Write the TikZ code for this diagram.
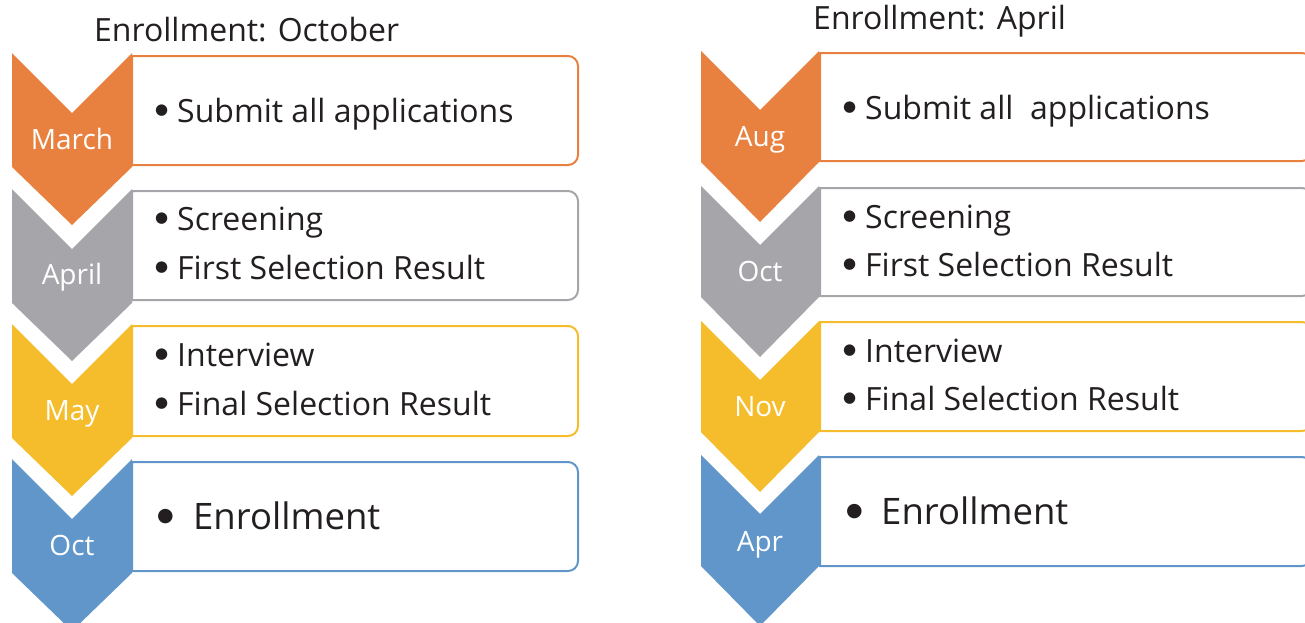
\documentclass[tikz,border=0pt]{standalone}
\usepackage{fontspec}
\setmainfont{Open Sans}
\newfontfamily\symf{DejaVu Sans}
\definecolor{corange}{HTML}{E8813F}
\definecolor{cgray}{HTML}{A6A6AA}
\definecolor{cyellow}{HTML}{F5BD2B}
\definecolor{cblue}{HTML}{6096C9}
\definecolor{ctext}{HTML}{231F20}
\tikzset{
  boxline/.style={draw=#1, line width=2pt},
  mlabel/.style={text=white, anchor=base, inner sep=0pt, font=\fontsize{28}{30}\selectfont},
  itemtxt/.style={anchor=base west, inner sep=0pt, text=ctext, font=\fontsize{32}{36}\selectfont},
  bigtxt/.style={anchor=base west, inner sep=0pt, text=ctext, font=\fontsize{36.5}{40}\selectfont},
  titletxt/.style={anchor=base west, inner sep=0pt, text=ctext, font=\fontsize{32}{36}\selectfont},
}
% chevron: x0, width, top, side length, tip length, colour
\newcommand\mychev[6]{%
  \fill[#6] (#1,#3) -- ({#1+#2/2},{#3+#2/2}) -- ({#1+#2},#3) -- ({#1+#2},{#3+#4})
    -- ({#1+#2/2},{#3+#5}) -- (#1,{#3+#4}) -- cycle;}
% box: x0, top, x1, bottom, colour
\newcommand\mybox[5]{%
  \draw[boxline=#5] (#1,#4) -- (#1,#2) -- ({#3-10},#2)
    .. controls ({#3-4.5},#2) and (#3,{#2+4.5}) .. (#3,{#2+10})
    -- (#3,{#4-10})
    .. controls (#3,{#4-4.5}) and ({#3-4.5},#4) .. ({#3-10},#4) -- cycle;}
\newcommand\bul[3]{\makebox[#1][l]{\raisebox{#2}{\symf\fontsize{#3}{#3}\selectfont ●}}}
\begin{document}
\begin{tikzpicture}[x=1pt,y=-1pt]
\useasboundingbox (0,0) rectangle (1305,622);
% ---------- left panel ----------
\node[titletxt] (tL) at (94,41) {Enrollment: October};
\mybox{132}{56}{578}{165}{corange}
\mybox{132}{191}{578}{300}{cgray}
\mybox{132}{326}{578}{436}{cyellow}
\mybox{132}{462}{578}{571}{cblue}
\mychev{12}{120}{53}{114}{172}{corange}
\mychev{12}{120}{189}{114}{172}{cgray}
\mychev{12}{120}{324}{114}{172}{cyellow}
\mychev{12}{120}{459}{114}{172}{cblue}
\node[mlabel] (mL1) at (72,149) {March};
\node[mlabel] (mL2) at (72,284) {April};
\node[mlabel] (mL3) at (72,420) {May};
\node[mlabel] (mL4) at (72,555) {Oct};
\node[itemtxt] (iL1) at (155,122) {\bul{22pt}{8pt}{15}Submit all applications};
\node[itemtxt] (iL2a) at (155,230) {\bul{22pt}{8pt}{15}Screening};
\node[itemtxt] (iL2b) at (155,279) {\bul{22pt}{8pt}{15}First Selection Result};
\node[itemtxt] (iL3a) at (155,366) {\bul{22pt}{8pt}{15}Interview};
\node[itemtxt] (iL3b) at (155,415) {\bul{22pt}{8pt}{15}Final Selection Result};
\node[bigtxt] (iL4) at (157,529) {\bul{36pt}{8pt}{19}Enrollment};
% ---------- right panel ----------
\node[titletxt] (tR) at (813,29) {Enrollment: April};
\mybox{820}{53}{1312}{161}{corange}
\mybox{820}{188}{1312}{296}{cgray}
\mybox{820}{322}{1312}{431}{cyellow}
\mybox{820}{457}{1312}{566}{cblue}
\mychev{701}{118}{51}{111}{171}{corange}
\mychev{701}{118}{186}{111}{171}{cgray}
\mychev{701}{118}{321}{111}{171}{cyellow}
\mychev{701}{118}{455}{111}{171}{cblue}
\node[mlabel] (mR1) at (760,146) {Aug};
\node[mlabel] (mR2) at (760,281) {Oct};
\node[mlabel] (mR3) at (760,416) {Nov};
\node[mlabel] (mR4) at (760,551) {Apr};
\node[itemtxt] (iR1) at (843,119) {\bul{22pt}{8pt}{15}Submit all\ \ applications};
\node[itemtxt] (iR2a) at (843,228) {\bul{22pt}{8pt}{15}Screening};
\node[itemtxt] (iR2b) at (843,276) {\bul{22pt}{8pt}{15}First Selection Result};
\node[itemtxt] (iR3a) at (843,362) {\bul{22pt}{8pt}{15}Interview};
\node[itemtxt] (iR3b) at (843,410) {\bul{22pt}{8pt}{15}Final Selection Result};
\node[bigtxt] (iR4) at (846,524) {\bul{35pt}{8pt}{19}Enrollment};
\end{tikzpicture}
\end{document}
